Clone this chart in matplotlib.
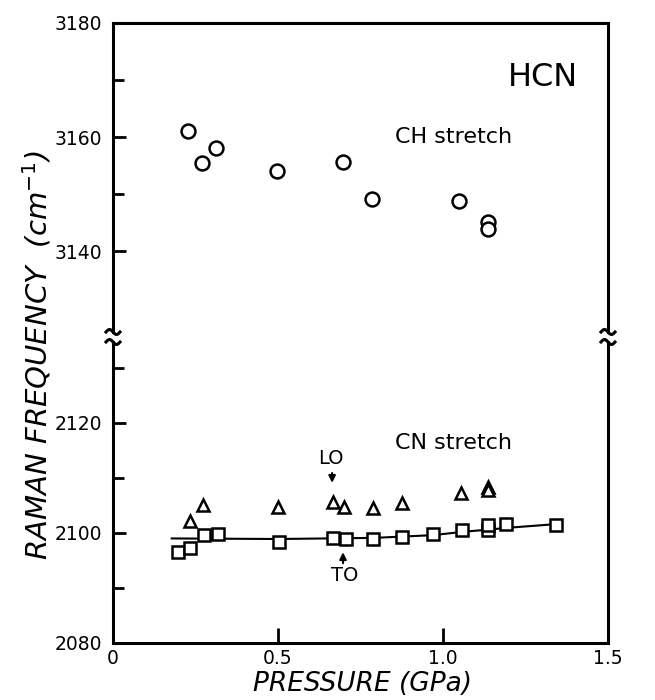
import numpy as np
import matplotlib
matplotlib.use("Agg")
import matplotlib.pyplot as plt
from matplotlib.ticker import FixedLocator

# CH stretch (circles)
ch_p = [0.226, 0.269, 0.312, 0.496, 0.698, 0.784, 1.048, 1.135, 1.135]
ch_freq = [3161.1, 3155.4, 3158.0, 3154.0, 3155.7, 3149.1, 3148.8, 3145.1, 3143.9]

# CN stretch LO (triangles)
lo_p = [0.233, 0.274, 0.501, 0.666, 0.701, 0.789, 0.875, 1.054, 1.137, 1.137]
lo_freq = [2102.2, 2105.0, 2104.8, 2105.6, 2104.8, 2104.6, 2105.4, 2107.3, 2108.3, 2107.8]

# CN stretch TO (squares)
to_p = [0.198, 0.233, 0.277, 0.319, 0.503, 0.668, 0.705, 0.789, 0.875, 0.971,
        1.057, 1.137, 1.137, 1.191, 1.342]
to_freq = [2096.6, 2097.3, 2099.6, 2099.8, 2098.3, 2099.1, 2098.9, 2098.9, 2099.3, 2099.8,
           2100.5, 2100.5, 2101.5, 2101.6, 2101.5]

# smooth curve through TO points
fit_p = [0.178, 0.5, 0.79, 0.97, 1.06, 1.21, 1.342]
fit_freq = [2099.0, 2098.9, 2099.1, 2099.6, 2100.2, 2101.0, 2101.6]

W, H = 655, 700
fig = plt.figure(figsize=(W / 100, H / 100), dpi=100)

x0, x1 = 113, 608
ax_top = fig.add_axes([x0 / W, 1 - 332 / H, (x1 - x0) / W, (332 - 23) / H])
ax_bot = fig.add_axes([x0 / W, 1 - 643 / H, (x1 - x0) / W, (643 - 342) / H])

for ax in (ax_top, ax_bot):
    ax.set_xlim(0, 1.5)
    for s in ax.spines.values():
        s.set_linewidth(2.2)
    ax.tick_params(direction='in', length=9, width=2, labelsize=13.5, pad=8,
                   right=False, top=False)
    ax.tick_params(which='minor', direction='in', length=8, width=2, right=False, top=False)

# top panel
ax_top.set_ylim(3125.8, 3180)
ax_top.spines['bottom'].set_visible(False)
ax_top.yaxis.set_major_locator(FixedLocator([3140, 3160, 3180]))
ax_top.yaxis.set_minor_locator(FixedLocator([3150, 3170]))
ax_top.tick_params(bottom=False, labelbottom=False)
ax_top.plot(ch_p, ch_freq, 'o', ms=10, mfc='white', mec='black', mew=1.8, ls='none')
ax_top.text(1.033, 3160.0, 'CH stretch', fontsize=16, ha='center', va='center')
ax_top.text(1.303, 3170.5, 'HCN', fontsize=23, ha='center', va='center')

# bottom panel
ax_bot.set_ylim(2080, 2134.7)
ax_bot.spines['top'].set_visible(False)
ax_bot.yaxis.set_major_locator(FixedLocator([2080, 2100, 2120]))
ax_bot.yaxis.set_minor_locator(FixedLocator([2090, 2110, 2130]))
ax_bot.xaxis.set_major_locator(FixedLocator([0, 0.5, 1.0, 1.5]))
ax_bot.set_xticklabels(['0', '0.5', '1.0', '1.5'])
ax_bot.tick_params(axis='x', pad=4, length=11)
ax_bot.plot(fit_p, fit_freq, '-', color='black', lw=1.5)
ax_bot.plot(to_p, to_freq, 's', ms=9, mfc='white', mec='black', mew=1.8, ls='none')
ax_bot.plot(lo_p, lo_freq, '^', ms=9, mfc='white', mec='black', mew=1.8, ls='none')
ax_bot.text(1.032, 2116.4, 'CN stretch', fontsize=16, ha='center', va='center')
ax_bot.text(0.661, 2113.6, 'LO', fontsize=14, ha='center', va='center')
ax_bot.text(0.703, 2092.2, 'TO', fontsize=14, ha='center', va='center')
ax_bot.annotate('', xy=(0.664, 2108.6), xytext=(0.664, 2111.4),
                arrowprops=dict(arrowstyle='-|>', color='black', lw=1.5, mutation_scale=10))
ax_bot.annotate('', xy=(0.697, 2097.0), xytext=(0.697, 2094.0),
                arrowprops=dict(arrowstyle='-|>', color='black', lw=1.5, mutation_scale=10))

# axis-break squiggles
def squiggle(xp, yp):
    t = np.linspace(-1, 1, 20)
    xs = xp + 7 * t
    ys = yp + 2.5 * np.sin(np.pi * t)
    fig.add_artist(plt.Line2D(xs / W, 1 - ys / H, color='black', lw=2.2,
                              transform=fig.transFigure))

for xp in (x0, x1):
    squiggle(xp, 332)
    squiggle(xp, 342)

fig.text(37 / W, 1 - 355 / H, 'RAMAN FREQUENCY  (cm$^{-1}$)', rotation=90,
         fontsize=21, style='italic', ha='center', va='center')
fig.text(362 / W, 1 - 684 / H, 'PRESSURE (GPa)', fontsize=19, style='italic',
         ha='center', va='center')

fig.savefig('out.png', dpi=100)
